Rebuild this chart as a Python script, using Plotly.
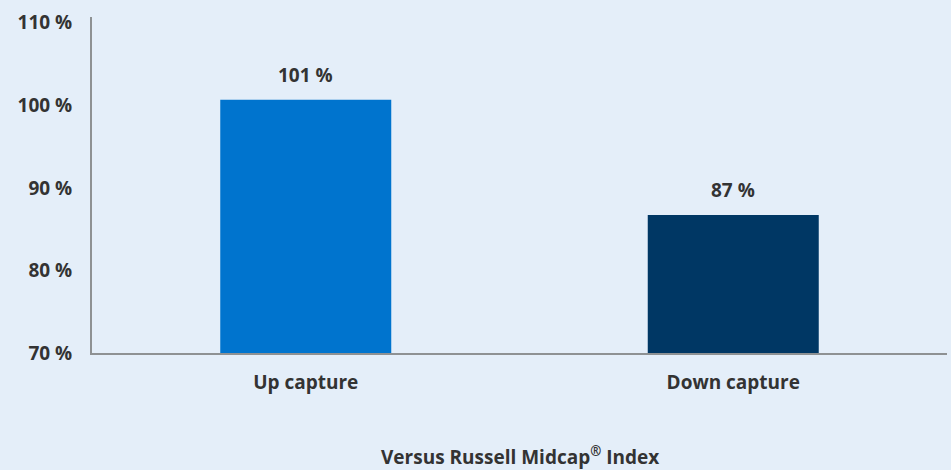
import plotly.graph_objects as go

categories = ["Up capture", "Down capture"]
values = [100.67, 86.73]
value_labels = ["101 %", "87 %"]
bar_colors = ["#0074CE", "#003764"]
y_ticks = [70, 80, 90, 100, 110]
y_tick_labels = ["70 %", "80 %", "90 %", "100 %", "110 %"]
x_title = "Versus Russell Midcap<sup>®</sup> Index"

BG = "#E4EEF9"
TXT = "#333333"
FONT = "Open Sans"
FS = 19
W = 700


def f():
    return dict(family=FONT, size=FS, color=TXT, weight=W)


fig = go.Figure()
fig.add_trace(go.Bar(
    x=categories, y=values, marker=dict(color=bar_colors, line=dict(width=0)),
    width=0.4, hoverinfo="skip",
))
for c, v, t in zip(categories, values, value_labels):
    fig.add_annotation(x=c, y=v, text=t, showarrow=False,
                       yshift=25, font=f())

fig.add_annotation(x=0.5, y=-0.307, xref="paper", yref="paper", text=x_title,
                   showarrow=False, yanchor="middle", font=f())

fig.update_layout(
    width=951, height=470,
    margin=dict(l=92, r=4, t=17, b=117),
    paper_bgcolor=BG, plot_bgcolor=BG,
    showlegend=False,
    font=f(),
    bargap=0.6,
)
fig.update_yaxes(
    range=[70, 110.7], tickvals=y_ticks, ticktext=y_tick_labels,
    showgrid=False, zeroline=False, showline=True, linecolor="#8E9193", linewidth=2,
    ticks="", ticklabelstandoff=14, tickfont=f(),
)
fig.update_xaxes(
    showgrid=False, zeroline=False, showline=True, linecolor="#8E9193", linewidth=2,
    ticks="", ticklabelstandoff=11,
    tickvals=categories, ticktext=categories,
    tickfont=f(),
)

fig.write_html("out.html", config={"displayModeBar": False},
               post_script="document.body.style.margin='0';document.body.style.overflow='hidden';")
